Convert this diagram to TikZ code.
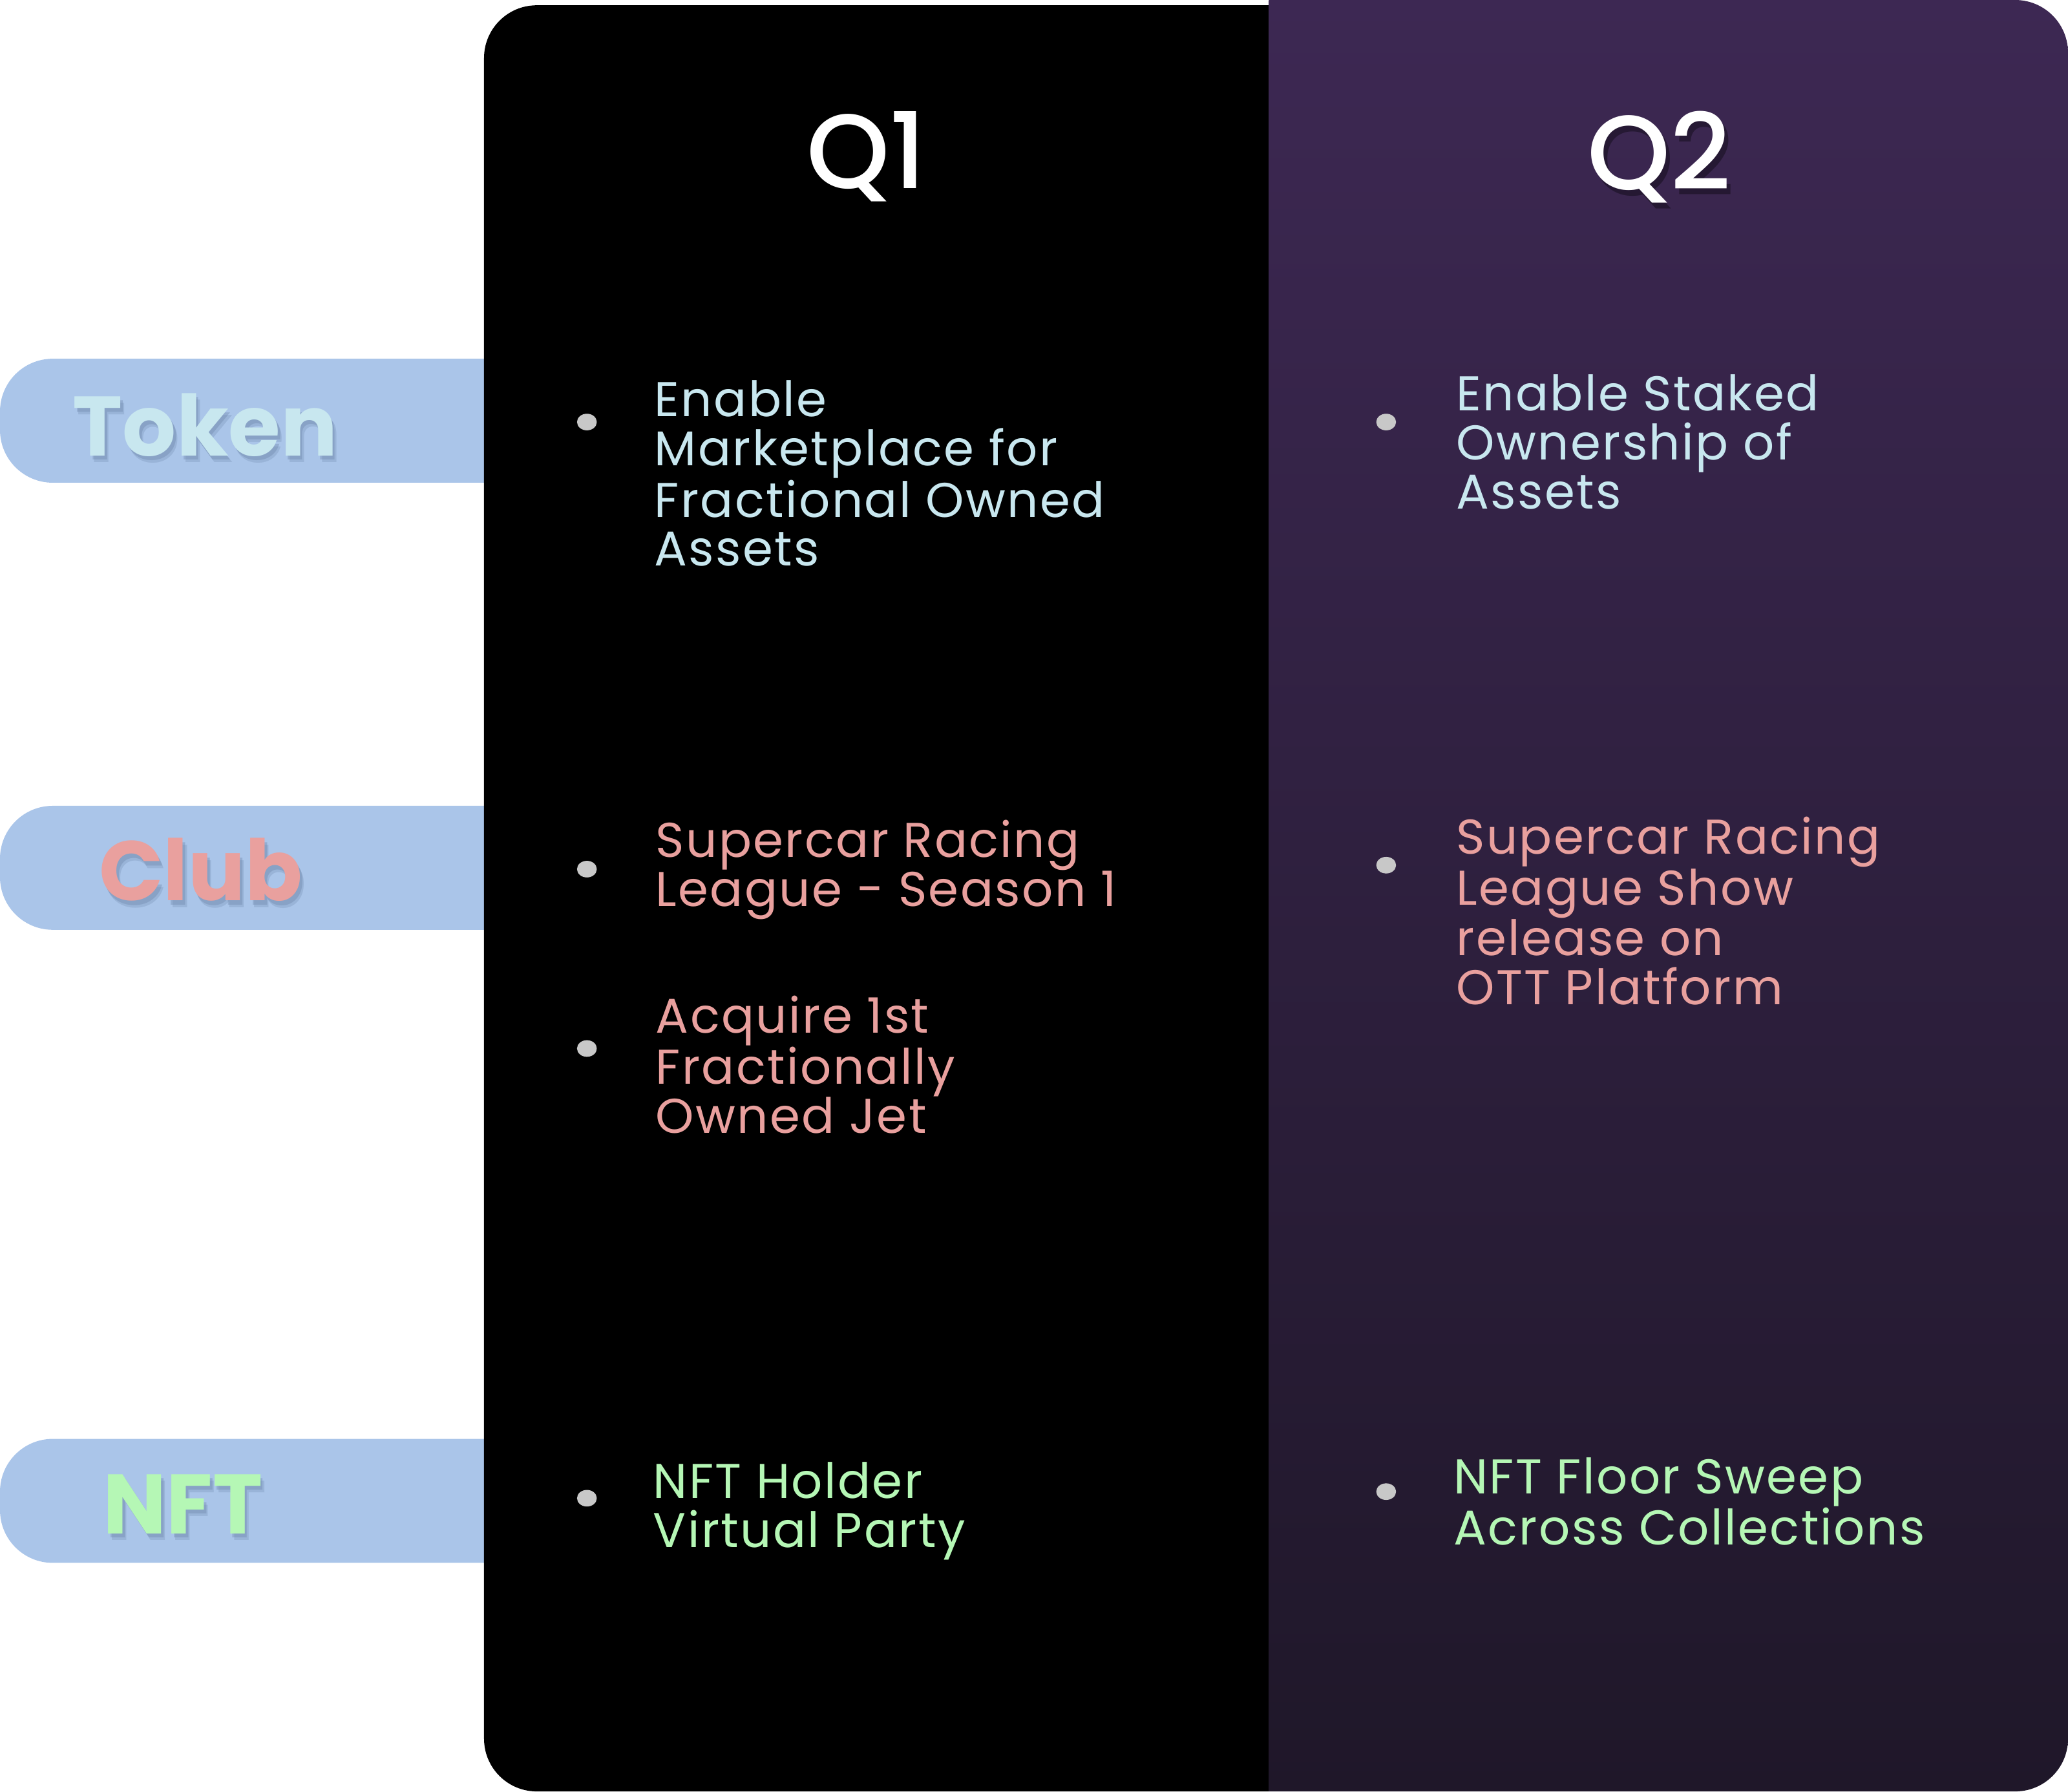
\documentclass[tikz,border=0pt]{standalone}
\usepackage{fontspec}
\setmainfont{Poppins}
\newfontfamily\headfont{Poppins Medium}
\newfontfamily\itemfont{Poppins}[LetterSpace=3.2]
\usetikzlibrary{shapes.geometric}

\definecolor{tabblue}{HTML}{AAC5E9}
\definecolor{tabshade}{HTML}{6A82A6}
\definecolor{tokencol}{HTML}{C8E7EF}
\definecolor{clubcol}{HTML}{E9A09E}
\definecolor{nftcol}{HTML}{B5F7B5}
\definecolor{plumtop}{HTML}{3D2853}
\definecolor{plumbot}{HTML}{1F1729}
\definecolor{dotgray}{HTML}{C8C8C8}

\begin{document}
\begin{tikzpicture}[x=1pt,y=-1pt,
    tab/.style={fill=tabblue,rounded corners=40},
    tablabel/.style={anchor=base west,inner sep=0,font=\fontsize{64}{64}\selectfont\bfseries},
    qlabel/.style={anchor=base,inner sep=0,text=white,font=\fontsize{80}{80}\headfont},
    item/.style={anchor=base west,inner sep=0,align=left,font=\fontsize{37}{37.2}\itemfont},
    dot/.style={ellipse,fill=dotgray,minimum width=15,minimum height=12.6,inner sep=0}]
    \useasboundingbox (0,0) rectangle (1568,1358.3);
    %% Tabs
    \fill[tab] (0,272) rectangle (420,366);
    \fill[tab] (0,611) rectangle (420,705);
    \fill[tab] (0,1091) rectangle (420,1185);
    \foreach \d/\op in {5/0.25,3/0.35} {
        \node[tablabel,text=tabshade,opacity=\op] (tokensh\d) at (55+0.6*\d,345.5+\d) {Token};
        \node[tablabel,text=tabshade,opacity=\op] (clubsh\d) at (75+0.6*\d,683+\d) {Club};
        \node[tablabel,text=tabshade,opacity=\op] (nftsh\d) at (78+0.6*\d,1163+\d) {NFT};
    }
    \node[tablabel,text=tokencol] (token) at (55,345.5) {Token};
    \node[tablabel,text=clubcol] (club) at (75,683) {Club};
    \node[tablabel,text=nftcol] (nft) at (78,1163) {NFT};
    %% Q1 column
    \begin{scope}
        \clip (300,0) rectangle (962,1360);
        \fill[black,rounded corners=40] (367,4) rectangle (1100,1358.3);
    \end{scope}
    %% Q2 column
    \begin{scope}
        \clip (962,0) rectangle (1568,1358.3);
        \shade[top color=plumtop,bottom color=plumbot,rounded corners=40] (800,0) rectangle (1568,1358.3);
    \end{scope}
    %% Headings
    \node[qlabel] (q1) at (657,143) {Q1};
    \node[qlabel,text=black,opacity=0.35] (q2sh) at (1261,148) {Q2};
    \node[qlabel] (q2) at (1258,144) {Q2};
    %% Q1 items (placed at the baseline of their last line)
    \node[dot] (d11) at (445,320) {};
    \node[item,text=tokencol] (t11) at (496,429.2) {Enable\\Marketplace for\\Fractional Owned\\Assets};
    \node[dot] (d12) at (445,659) {};
    \node[item,text=clubcol] (t12) at (497,687.2) {Supercar Racing\\League - Season 1};
    \node[dot] (d13) at (445,795) {};
    \node[item,text=clubcol] (t13) at (497,859.4) {Acquire 1st\\Fractionally\\Owned Jet};
    \node[dot] (d14) at (445,1136) {};
    \node[item,text=nftcol] (t14) at (495,1173.2) {NFT Holder\\Virtual Party};
    %% Q2 items
    \node[dot] (d21) at (1051,320) {};
    \node[item,text=tokencol] (t21) at (1104,386) {Enable Staked\\Ownership of\\Assets};
    \node[dot] (d22) at (1051,656) {};
    \node[item,text=clubcol] (t22) at (1104,761.6) {Supercar Racing\\League Show\\release on\\OTT Platform};
    \node[dot] (d23) at (1051,1131) {};
    \node[item,text=nftcol] (t23) at (1102,1171.2) {NFT Floor Sweep\\Across Collections};
\end{tikzpicture}
\end{document}
